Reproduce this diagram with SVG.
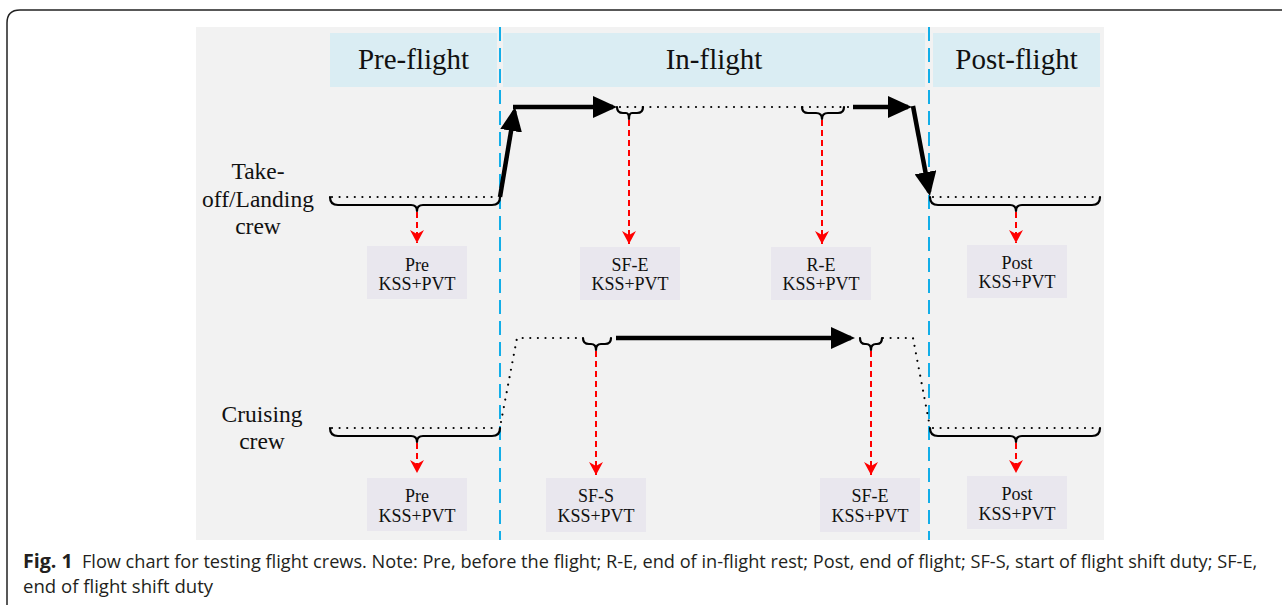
<svg xmlns="http://www.w3.org/2000/svg" width="1282" height="605" viewBox="0 0 1282 605">
<style>
.serif{font-family:"Liberation Serif","Times New Roman",serif;fill:#111}
.hdr{fill:#DAEDF3}
.hdrt{font-size:29px;text-anchor:middle}
.crew{font-size:23.5px;text-anchor:middle}
.box{fill:#E9E7EE}
.boxt{font-size:18px;text-anchor:middle}
.dot{fill:none;stroke:#000;stroke-width:2.2;stroke-dasharray:0 7.6;stroke-linecap:round}
.brace{fill:none;stroke:#000;stroke-width:2.2;stroke-linecap:round;stroke-linejoin:round}
.thick{fill:none;stroke:#000;stroke-width:4.5;stroke-linecap:butt}
.red{fill:none;stroke:#FF0000;stroke-width:2;stroke-dasharray:6 4}
.blue{fill:none;stroke:#12AEE8;stroke-width:2;stroke-dasharray:14 7}
.cap{font-family:"Open Sans","Noto Sans",sans-serif;font-size:19px;fill:#231F20}
</style>
<defs>
<marker id="bk" markerUnits="userSpaceOnUse" viewBox="0 0 24 22" refX="20" refY="11" markerWidth="24" markerHeight="22" orient="auto">
<path d="M0,0 L24,11 L0,22 z" fill="#000"/>
</marker>
<marker id="rd" markerUnits="userSpaceOnUse" viewBox="0 0 13 14" refX="13" refY="7" markerWidth="13" markerHeight="14" orient="auto">
<path d="M0,0 L13,7 L0,14 L4,7 z" fill="#FF0000"/>
</marker>
</defs>
<rect width="1282" height="605" fill="#fff"/>
<path d="M7,605 L7,23 Q7,10 20,10 L1282,10" fill="none" stroke="#222" stroke-width="1.5"/>
<rect x="196" y="27" width="908" height="513" fill="#F2F2F2"/>

<g id="headers">
<g id="pre-flight"><rect class="hdr" x="330" y="33" width="167" height="54"/><text class="serif hdrt" x="413.5" y="69">Pre-flight</text></g>
<g id="in-flight"><rect class="hdr" x="503" y="33" width="422" height="54"/><text class="serif hdrt" x="714" y="69">In-flight</text></g>
<g id="post-flight"><rect class="hdr" x="933" y="33" width="167" height="54"/><text class="serif hdrt" x="1016.5" y="69">Post-flight</text></g>
</g>

<g id="crew-labels">
<g id="takeoff-label"><text class="serif crew" x="258" y="179">Take-</text><text class="serif crew" x="258" y="207">off/Landing</text><text class="serif crew" x="258" y="234">crew</text></g>
<g id="cruising-label"><text class="serif crew" x="262" y="422">Cruising</text><text class="serif crew" x="262" y="449">crew</text></g>
</g>

<g id="phase-dividers">
<line class="blue" x1="500" y1="27" x2="500" y2="540"/>
<line class="blue" x1="929" y1="27" x2="929" y2="540"/>
</g>

<g id="connectors">
<line class="dot" x1="332" y1="197" x2="498" y2="197"/>
<path class="brace" d="M330,197 Q330,205 338,205 L411,205 Q417,205 417,211 Q417,205 423,205 L492,205 Q500,205 500,197"/>
<path class="thick" d="M500,197 L514.4,111" marker-end="url(#bk)"/>
<path class="thick" d="M513,107 L613,107" marker-end="url(#bk)"/>
<line class="dot" x1="620" y1="107" x2="850" y2="107"/>
<path class="brace" d="M617,107 Q617,113 623,113 L626,113 Q629,113 629,119 Q629,113 632,113 L637,113 Q643,113 643,107"/>
<path class="brace" d="M802,107 Q802,113 808,113 L816,113 Q822,113 822,119 Q822,113 828,113 L838,113 Q844,113 844,107"/>
<path class="thick" d="M853,107 L908,107" marker-end="url(#bk)"/>
<path class="thick" d="M913,106 L929.2,192" marker-end="url(#bk)"/>
<line class="dot" x1="933" y1="197" x2="1098" y2="197"/>
<path class="brace" d="M930,197 Q930,205 938,205 L1010,205 Q1016,205 1016,211 Q1016,205 1022,205 L1092,205 Q1100,205 1100,197"/>
<line class="red" x1="417" y1="212" x2="417" y2="243" marker-end="url(#rd)"/>
<line class="red" x1="629" y1="120" x2="629" y2="244" marker-end="url(#rd)"/>
<line class="red" x1="822" y1="120" x2="822" y2="244" marker-end="url(#rd)"/>
<line class="red" x1="1016" y1="212" x2="1016" y2="243" marker-end="url(#rd)"/>

<line class="dot" x1="332" y1="428" x2="498" y2="428"/>
<path class="brace" d="M330,428 Q330,436 338,436 L411,436 Q417,436 417,442 Q417,436 423,436 L492,436 Q500,436 500,428"/>
<path class="dot" d="M501,422 L517,338 L583,338"/>
<path class="brace" d="M583,338 Q583,344 589,344 L591,344 Q596,344 596,350 Q596,344 601,344 L605,344 Q611,344 611,338"/>
<path class="thick" d="M616,338 L851,338" marker-end="url(#bk)"/>
<path class="brace" d="M860,338 Q860,344 865,344 L866,344 Q871,344 871,350 Q871,344 876,344 L877,344 Q882,344 882,338"/>
<path class="dot" d="M883,338 L913,338 L929,422"/>
<line class="dot" x1="933" y1="428" x2="1098" y2="428"/>
<path class="brace" d="M930,428 Q930,436 938,436 L1010,436 Q1016,436 1016,442 Q1016,436 1022,436 L1092,436 Q1100,436 1100,428"/>
<line class="red" x1="417" y1="443" x2="417" y2="473" marker-end="url(#rd)"/>
<line class="red" x1="596" y1="351" x2="596" y2="475" marker-end="url(#rd)"/>
<line class="red" x1="871" y1="351" x2="871" y2="475" marker-end="url(#rd)"/>
<line class="red" x1="1016" y1="443" x2="1016" y2="473" marker-end="url(#rd)"/>
</g>

<g id="tl-pre"><rect class="box" x="367" y="246" width="100" height="53"/><text class="serif boxt" x="417" y="271">Pre</text><text class="serif boxt" x="417" y="290">KSS+PVT</text></g>
<g id="tl-sfe"><rect class="box" x="580" y="247" width="100" height="53"/><text class="serif boxt" x="630" y="271">SF-E</text><text class="serif boxt" x="630" y="290">KSS+PVT</text></g>
<g id="tl-re"><rect class="box" x="771" y="247" width="100" height="53"/><text class="serif boxt" x="821" y="271">R-E</text><text class="serif boxt" x="821" y="290">KSS+PVT</text></g>
<g id="tl-post"><rect class="box" x="967" y="245" width="100" height="53"/><text class="serif boxt" x="1017" y="269">Post</text><text class="serif boxt" x="1017" y="288">KSS+PVT</text></g>

<g id="cr-pre"><rect class="box" x="367" y="478" width="100" height="53"/><text class="serif boxt" x="417" y="502">Pre</text><text class="serif boxt" x="417" y="522">KSS+PVT</text></g>
<g id="cr-sfs"><rect class="box" x="546" y="478" width="100" height="54"/><text class="serif boxt" x="596" y="502">SF-S</text><text class="serif boxt" x="596" y="522">KSS+PVT</text></g>
<g id="cr-sfe"><rect class="box" x="820" y="478" width="100" height="54"/><text class="serif boxt" x="870" y="502">SF-E</text><text class="serif boxt" x="870" y="522">KSS+PVT</text></g>
<g id="cr-post"><rect class="box" x="967" y="476" width="100" height="53"/><text class="serif boxt" x="1017" y="500">Post</text><text class="serif boxt" x="1017" y="520">KSS+PVT</text></g>

<g id="caption">
<g transform="translate(23,568) scale(0.83,1)">
<text class="cap" x="0" y="0" font-weight="bold" textLength="60" lengthAdjust="spacingAndGlyphs">Fig. 1</text>
<text class="cap" x="71" y="0" textLength="1416" lengthAdjust="spacingAndGlyphs">Flow chart for testing flight crews. Note: Pre, before the flight; R-E, end of in-flight rest; Post, end of flight; SF-S, start of flight shift duty; SF-E,</text>
<text class="cap" x="0" y="25" textLength="229" lengthAdjust="spacingAndGlyphs">end of flight shift duty</text>
</g>
</g>
</svg>
